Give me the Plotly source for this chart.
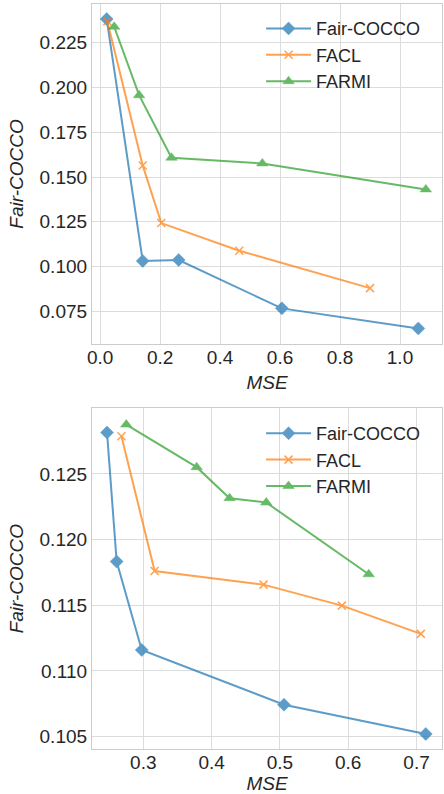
import plotly.graph_objects as go

series_names = ["Fair-COCCO", "FACL", "FARMI"]
colors = ["#1f77b4", "#ff7f0e", "#2ca02c"]
symbols = ["diamond", "x-thin", "triangle-up"]

# Top panel
top_mse = {
    "Fair-COCCO": [0.022, 0.142, 0.262, 0.606, 1.061],
    "FACL": [0.024, 0.142, 0.204, 0.464, 0.900],
    "FARMI": [0.047, 0.130, 0.238, 0.541, 1.086],
}
top_fair = {
    "Fair-COCCO": [0.2382, 0.1032, 0.1037, 0.0767, 0.0655],
    "FACL": [0.2370, 0.1565, 0.1243, 0.1089, 0.0880],
    "FARMI": [0.2339, 0.1957, 0.1608, 0.1576, 0.1431],
}

# Bottom panel
bot_mse = {
    "Fair-COCCO": [0.2469, 0.261, 0.2977, 0.506, 0.7135],
    "FACL": [0.268, 0.3166, 0.476, 0.5907, 0.7063],
    "FARMI": [0.2751, 0.3781, 0.4263, 0.480, 0.630],
}
bot_fair = {
    "Fair-COCCO": [0.12814, 0.11833, 0.1116, 0.10743, 0.1052],
    "FACL": [0.12787, 0.11761, 0.11657, 0.11497, 0.11282],
    "FARMI": [0.12875, 0.12551, 0.12315, 0.12282, 0.11736],
}

fig = go.Figure()

for panel, (xs, ys, xa, ya, leg) in enumerate([
    (top_mse, top_fair, "x", "y", "legend"),
    (bot_mse, bot_fair, "x2", "y2", "legend2"),
]):
    for name, c, s in zip(series_names, colors, symbols):
        marker = dict(symbol=s, size=10 if s != "x-thin" else 8, color=c)
        if s == "x-thin":
            marker["line"] = dict(color=c, width=1.5)
        else:
            marker["line"] = dict(color=c, width=0.5)
        fig.add_trace(go.Scatter(
            x=xs[name], y=ys[name], mode="lines+markers", name=name,
            line=dict(color=c, width=2), marker=marker, opacity=0.72,
            xaxis=xa, yaxis=ya, legend=leg,
        ))

grid = "#dcdcdc"
FONT = "Liberation Sans, Arial, sans-serif"
tickfont = dict(family=FONT, size=19, color="#262626")
titlefont = dict(family=FONT, size=19, color="#262626")

def axis_common():
    return dict(showgrid=True, gridcolor=grid, gridwidth=1, showline=True,
                linecolor="#cccccc", linewidth=1.2, mirror=True, ticks="",
                zeroline=False, tickfont=tickfont, automargin=False)

legfont = dict(family=FONT, size=18, color="#262626")

fig.update_layout(
    width=444, height=794,
    margin=dict(l=92, r=2, t=4, b=45),
    paper_bgcolor="white", plot_bgcolor="white",
    xaxis=dict(domain=[0, 1], anchor="y", range=[-0.027, 1.14], dtick=0.2, tick0=0,
               tickformat=".1f", ticklabelstandoff=-4,
               title=dict(text="<i>MSE</i>", font=titlefont, standoff=8),
               **axis_common()),
    yaxis=dict(domain=[0.5436, 1.0], anchor="x", range=[0.0568, 0.2466], dtick=0.025, tick0=0,
               tickformat=".3f", title=dict(text="<i>Fair-COCCO</i>", font=titlefont, standoff=10),
               **axis_common()),
    xaxis2=dict(domain=[0, 1], anchor="y2", range=[0.2249, 0.7373], dtick=0.1, tick0=0,
                tickformat=".1f", ticklabelstandoff=-4,
                title=dict(text="<i>MSE</i>", font=titlefont, standoff=8),
                **axis_common()),
    yaxis2=dict(domain=[0, 0.4573], anchor="x2", range=[0.10406, 0.12999], dtick=0.005, tick0=0,
                tickformat=".3f", title=dict(text="<i>Fair-COCCO</i>", font=titlefont, standoff=10),
                **axis_common()),
    legend=dict(x=0.483, y=0.9917, xanchor="left", yanchor="top", bgcolor="rgba(0,0,0,0)",
                itemwidth=45, font=legfont),
    legend2=dict(x=0.483, y=0.4483, xanchor="left", yanchor="top", bgcolor="rgba(0,0,0,0)",
                 itemwidth=45, font=legfont),
    showlegend=True,
)

fig.write_html("out.html", config={"displayModeBar": False},
               post_script="document.body.style.margin='0';")
